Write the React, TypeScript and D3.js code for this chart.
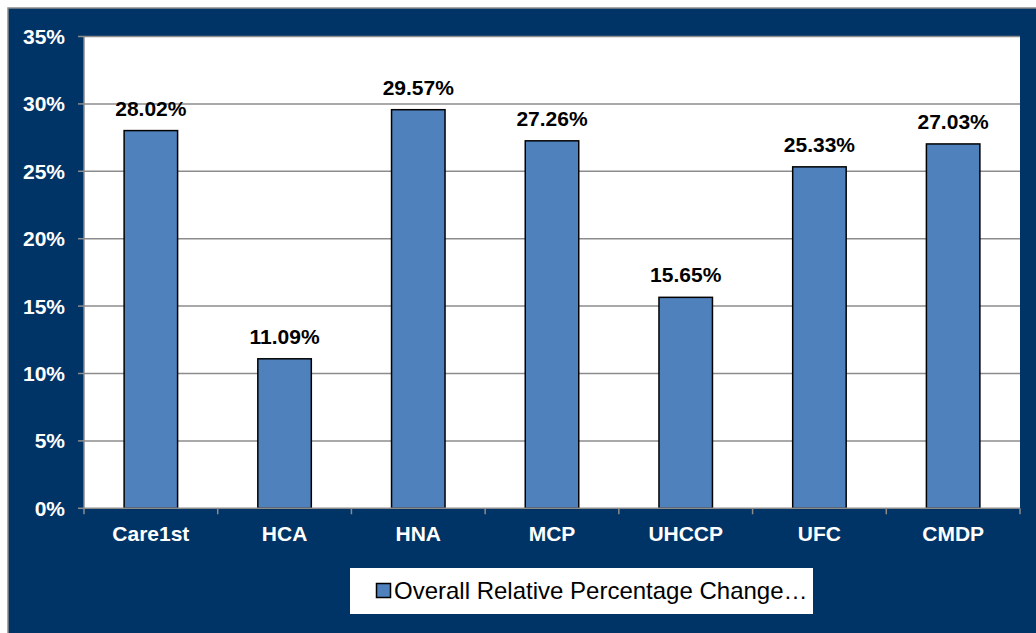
import React from "react";
import * as d3 from "d3";

const categories = ["Care1st", "HCA", "HNA", "MCP", "UHCCP", "UFC", "CMDP"];
const values = [28.02, 11.09, 29.57, 27.26, 15.65, 25.33, 27.03];
const yTicks = [0, 5, 10, 15, 20, 25, 30, 35];
const seriesName = "Overall Relative Percentage Change…";

const W = 1036;
const H = 633;
const plot = { left: 84, top: 36.5, right: 1020, bottom: 508.3 };
const NAVY = "#003366";
const FONT = "'Liberation Sans', Arial, sans-serif";

export default function App() {
  const x = d3.scaleBand<string>().domain(categories).range([plot.left, plot.right]).paddingInner(0.6).paddingOuter(0.3);
  const xb = d3.scaleBand<string>().domain(categories).range([plot.left, plot.right]);
  const y = d3.scaleLinear().domain([0, 35]).range([plot.bottom, plot.top]);
  return (
    <svg width={W} height={H} style={{ position: "absolute", left: 0, top: 0, fontFamily: FONT }}>
      <rect x={8} y={8} width={W} height={H} fill={NAVY} stroke="#8c8c8c" strokeWidth={1.5} />
      <rect x={plot.left} y={plot.top} width={plot.right - plot.left} height={plot.bottom - plot.top} fill="#fff" />
      {yTicks.map((t) => (
        <g key={t}>
          {t > 0 && <line x1={plot.left} x2={plot.right} y1={y(t)} y2={y(t)} stroke="#8c8c8c" strokeWidth={1.5} />}
          <line x1={plot.left - 6} x2={plot.left} y1={y(t)} y2={y(t)} stroke="#8c8c8c" strokeWidth={1.5} />
          <text x={65} y={y(t)} dy="0.36em" textAnchor="end" fill="#fff" fontWeight="bold" fontSize={21}>{t}%</text>
        </g>
      ))}
      <line x1={plot.left} x2={plot.left} y1={plot.top} y2={plot.bottom} stroke="#8c8c8c" strokeWidth={1.5} />
      {categories.map((c, i) => (
        <g key={c}>
          <rect x={x(c)} y={y(values[i])} width={x.bandwidth()} height={plot.bottom - y(values[i])} fill="#4F81BD" stroke="#000" strokeWidth={1.5} />
          <text x={x(c)! + x.bandwidth() / 2} y={y(values[i]) - 15} textAnchor="middle" fontWeight="bold" fontSize={21} fill="#000">{values[i].toFixed(2)}%</text>
          <text x={xb(c)! + xb.bandwidth() / 2} y={541} textAnchor="middle" fontWeight="bold" fontSize={21} fill="#fff">{c}</text>
        </g>
      ))}
      <line x1={plot.left} x2={plot.right} y1={plot.bottom} y2={plot.bottom} stroke="#8c8c8c" strokeWidth={1.5} />
      {[...categories.map((c) => xb(c)!), plot.right].map((v, i) => (
        <line key={i} x1={v} x2={v} y1={plot.bottom} y2={plot.bottom + 6} stroke="#8c8c8c" strokeWidth={1.5} />
      ))}
      <rect x={350} y={568} width={463} height={46} fill="#fff" />
      <rect x={376.5} y={583.5} width={14} height={14} fill="#4F81BD" stroke="#000" strokeWidth={1.5} />
      <text x={394} y={599} fontSize={24} fill="#000">{seriesName}</text>
    </svg>
  );
}
